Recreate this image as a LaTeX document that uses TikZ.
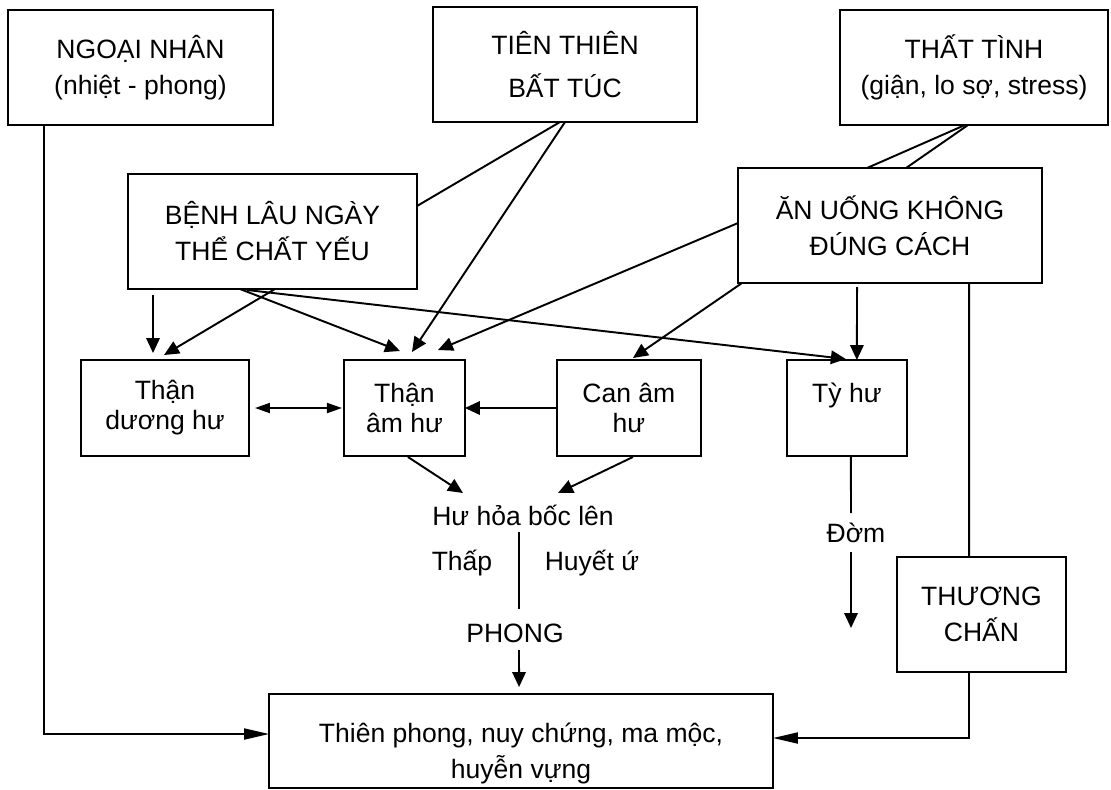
\documentclass[tikz,border=0pt]{standalone}
\usepackage{fontspec}
\setmainfont{Liberation Sans}
\usetikzlibrary{arrows.meta, positioning, calc}

\begin{document}
\begin{tikzpicture}[
  x=0.02cm, y=-0.02cm,
  box/.style={rectangle, draw, line width=1.1pt, inner sep=0pt, outer sep=0pt, align=center,
    minimum height=2.3cm, font=\fontsize{15.1}{20.5}\selectfont},
  smallbox/.style={box, minimum height=1.92cm, font=\fontsize{15.1}{17}\selectfont},
  lbl/.style={inner sep=0pt, font=\fontsize{15.1}{18}\selectfont},
  arr/.style={-{Triangle[length=0.3cm, width=0.27cm]}, line width=1.1pt},
  longarr/.style={-{Triangle[length=0.5cm, width=0.22cm]}, line width=1.1pt},
  dblarr/.style={{Triangle[length=0.3cm, width=0.2cm]}-{Triangle[length=0.3cm, width=0.2cm]}, line width=1.1pt},
  link/.style={line width=1.1pt}
]
\useasboundingbox (0,0) rectangle (1111,789);

\node[box, minimum width=5.3cm] (ngoai) at (140.5,67.5) {NGOẠI NHÂN\\(nhiệt - phong)};
\node[box, minimum width=5.28cm] (tien) at (565,64.5) {TIÊN THIÊN\\[3.5pt]BẤT TÚC};
\node[box, minimum width=5.36cm] (that) at (974,67.5) {THẤT TÌNH\\(giận, lo sợ, stress)};
\node[box, minimum width=5.78cm] (benh) at (272.5,231.5) {BỆNH LÂU NGÀY\\THỂ CHẤT YẾU};
\node[box, minimum width=6.08cm] (anuong) at (890,225.5) {ĂN UỐNG KHÔNG\\ĐÚNG CÁCH};
\node[smallbox, minimum width=3.36cm] (duong) at (165,408) {Thận\\dương hư};
\node[smallbox, minimum width=2.42cm, right=1.9cm of duong] (amhu) {Thận\\âm hư};
\node[smallbox, minimum width=2.88cm, right=1.84cm of amhu] (canam) {Can âm\\hư};
\node[smallbox, minimum width=2.4cm, right=1.72cm of canam] (tyhu) {Tỳ hư\\\mbox{}};
\node[box, minimum width=3.38cm] (thuong) at (981.5,614.5) {THƯƠNG\\CHẤN};
\node[box, minimum width=10.08cm, minimum height=1.88cm] (trieu) at (521,741)
  {\rule{0pt}{25pt}Thiên phong, nuy chứng, ma mộc,\\huyễn vựng};

\node[lbl] (huhoa) at (523,515) {Hư hỏa bốc lên};
\node[lbl] (thap) at (462,563) {Thấp};
\node[lbl] (huyet) at (592,563) {Huyết ứ};
\node[lbl] (phong) at (515,633) {PHONG};
\node[lbl] (dom) at (856,533) {Đờm};
\coordinate (domend) at (851,628);

\draw[longarr] ($(ngoai.south west)+(36,0)$) |- ($(trieu.west)+(0,-7)$);
\draw[link] ($(tien.south west)+(127,0)$) -- ($(benh.north east)+(0,32)$);
\draw[arr] ($(tien.south west)+(132,0)$) -- ($(amhu.north west)+(68,-8)$);
\draw[link] ($(that.south west)+(125,0)$) -- ($(anuong.north west)+(129,0)$);
\draw[link] ($(that.south west)+(128,0)$) -- ($(anuong.north west)+(168,0)$);

\draw[arr] ($(benh.south west)+(25,6)$) -- ($(duong.north west)+(72,-7)$);
\draw[arr] ($(benh.south west)+(147,0)$) -- ($(duong.north west)+(83,-5)$);
\draw[arr] ($(benh.south west)+(112,0)$) -- ($(amhu.north west)+(56,-9)$);
\draw[arr] ($(benh.south west)+(119,1)$) -- ($(tyhu.north west)+(59,-1)$);

\draw[arr] ($(anuong.north west)+(0,55)$) -- ($(amhu.north west)+(94,-10)$);
\draw[arr] ($(anuong.south west)+(4,0)$) -- ($(canam.north west)+(76,-2)$);
\draw[arr] ($(anuong.south west)+(119,4)$) -- ($(tyhu.north west)+(70,0)$);
\draw[link] ($(anuong.south west)+(231,0)$) -- ($(thuong.north west)+(72,0)$);
\draw[longarr] ($(thuong.south west)+(72,0)$) |- ($(trieu.east)+(0,-3)$);

\draw[dblarr] ($(duong.east)+(6,0)$) -- ($(amhu.west)+(-2,0)$);
\draw[arr] (canam.west) -- (amhu.east);
\draw[arr] ($(amhu.south west)+(64,1)$) -- ($(huhoa)+(-60,-22)$);
\draw[arr] ($(canam.south west)+(76,1)$) -- ($(huhoa)+(35,-22)$);
\draw[link] ($(huhoa)+(-4,17)$) -- ($(phong)+(4,-24)$);
\draw[arr] ($(phong)+(4,17)$) -- ($(trieu.north west)+(250,-7)$);
\draw[link] ($(tyhu.south west)+(64,0)$) -- ($(dom)+(-5,-20)$);
\draw[arr] ($(dom)+(-5,19)$) -- (domend);
\end{tikzpicture}
\end{document}
